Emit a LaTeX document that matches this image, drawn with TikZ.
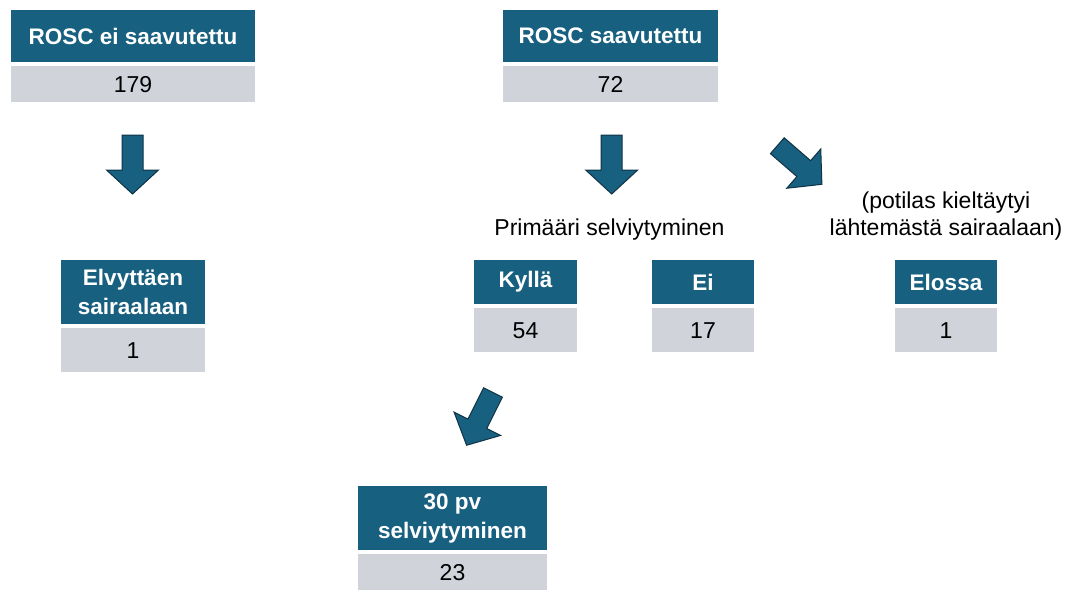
\documentclass[tikz,border=0pt]{standalone}
\usepackage{fontspec}
\setmainfont{Liberation Sans}
\usetikzlibrary{positioning}
\definecolor{hdrblue}{RGB}{24,96,128}
\definecolor{valgray}{RGB}{208,211,218}
\definecolor{arrowline}{RGB}{16,50,70}
\tikzset{>=stealth,
  hdr/.style={rectangle, fill=hdrblue, text=white, inner sep=0pt, align=center,
    font=\fontsize{22.5}{29}\selectfont\bfseries},
  val/.style={rectangle, fill=valgray, text=black, inner sep=0pt,
    font=\fontsize{23}{26}\selectfont},
  note/.style={align=center, inner sep=0pt, font=\fontsize{23}{27}\selectfont},
  arrowbody/.style={fill=hdrblue, draw=arrowline, line width=1pt, line join=miter},
  blkarrow/.pic={
    \draw[arrowbody] (0,-10.5) -- (35,-10.5) -- (35,-26) -- (59,0) -- (35,26) -- (35,10.5) -- (0,10.5) -- cycle;
  }
}

\begin{document}
\begin{tikzpicture}[x=1pt, y=-1pt]
    \useasboundingbox (0,0) rectangle (1069,590);
    % ROSC ei saavutettu
    \node[hdr, minimum width=244pt, minimum height=52pt] (eiH) at (133,36) {ROSC ei saavutettu};
    \node[val, minimum width=244pt, minimum height=36pt, below=4pt of eiH] (eiV) {179};
    % ROSC saavutettu
    \node[hdr, minimum width=215pt, minimum height=52pt] (okH) at (610.5,36) {ROSC saavutettu};
    \node[val, minimum width=215pt, minimum height=36pt, below=4pt of okH] (okV) {72};
    % toisen tason laatikot
    \node[hdr, minimum width=144pt, minimum height=64pt] (elvH) at (133,292) {Elvyttäen\\sairaalaan};
    \node[val, minimum width=144pt, minimum height=44pt, below=4pt of elvH] (elvV) {1};
    \node[hdr, minimum width=103pt, minimum height=44pt] (kylH) at (525.5,282) {Kyllä};
    \node[val, minimum width=103pt, minimum height=44pt, below=4pt of kylH] (kylV) {54};
    \node[hdr, minimum width=102pt, minimum height=44pt] (eH) at (703,282) {Ei};
    \node[val, minimum width=102pt, minimum height=44pt, below=4pt of eH] (eV) {17};
    \node[hdr, minimum width=102pt, minimum height=44pt] (eloH) at (946,282) {Elossa};
    \node[val, minimum width=102pt, minimum height=44pt, below=4pt of eloH] (eloV) {1};
    % 30 pv
    \node[hdr, minimum width=189pt, minimum height=64pt] (pvH) at (452.5,518) {30 pv\\selviytyminen};
    \node[val, minimum width=189pt, minimum height=36pt, below=4pt of pvH] (pvV) {23};
    % tekstit
    \node[note, anchor=base] (prim) at (609.5,235) {Primääri selviytyminen};
    \node[note, anchor=base] (kielt) at (946,235) {(potilas kieltäytyi\\lähtemästä sairaalaan)};
    % nuolet
    \pic[rotate=-90] (arrL) at (132.5,135) {blkarrow};
    \pic[rotate=-90] (arrR) at (611.7,135) {blkarrow};
    \pic[rotate=-40.9] (arrD) at (777.3,145.7) {blkarrow};
    \pic[rotate=-116.6] (arrK) at (493,392.5) {blkarrow};
\end{tikzpicture}
\end{document}
